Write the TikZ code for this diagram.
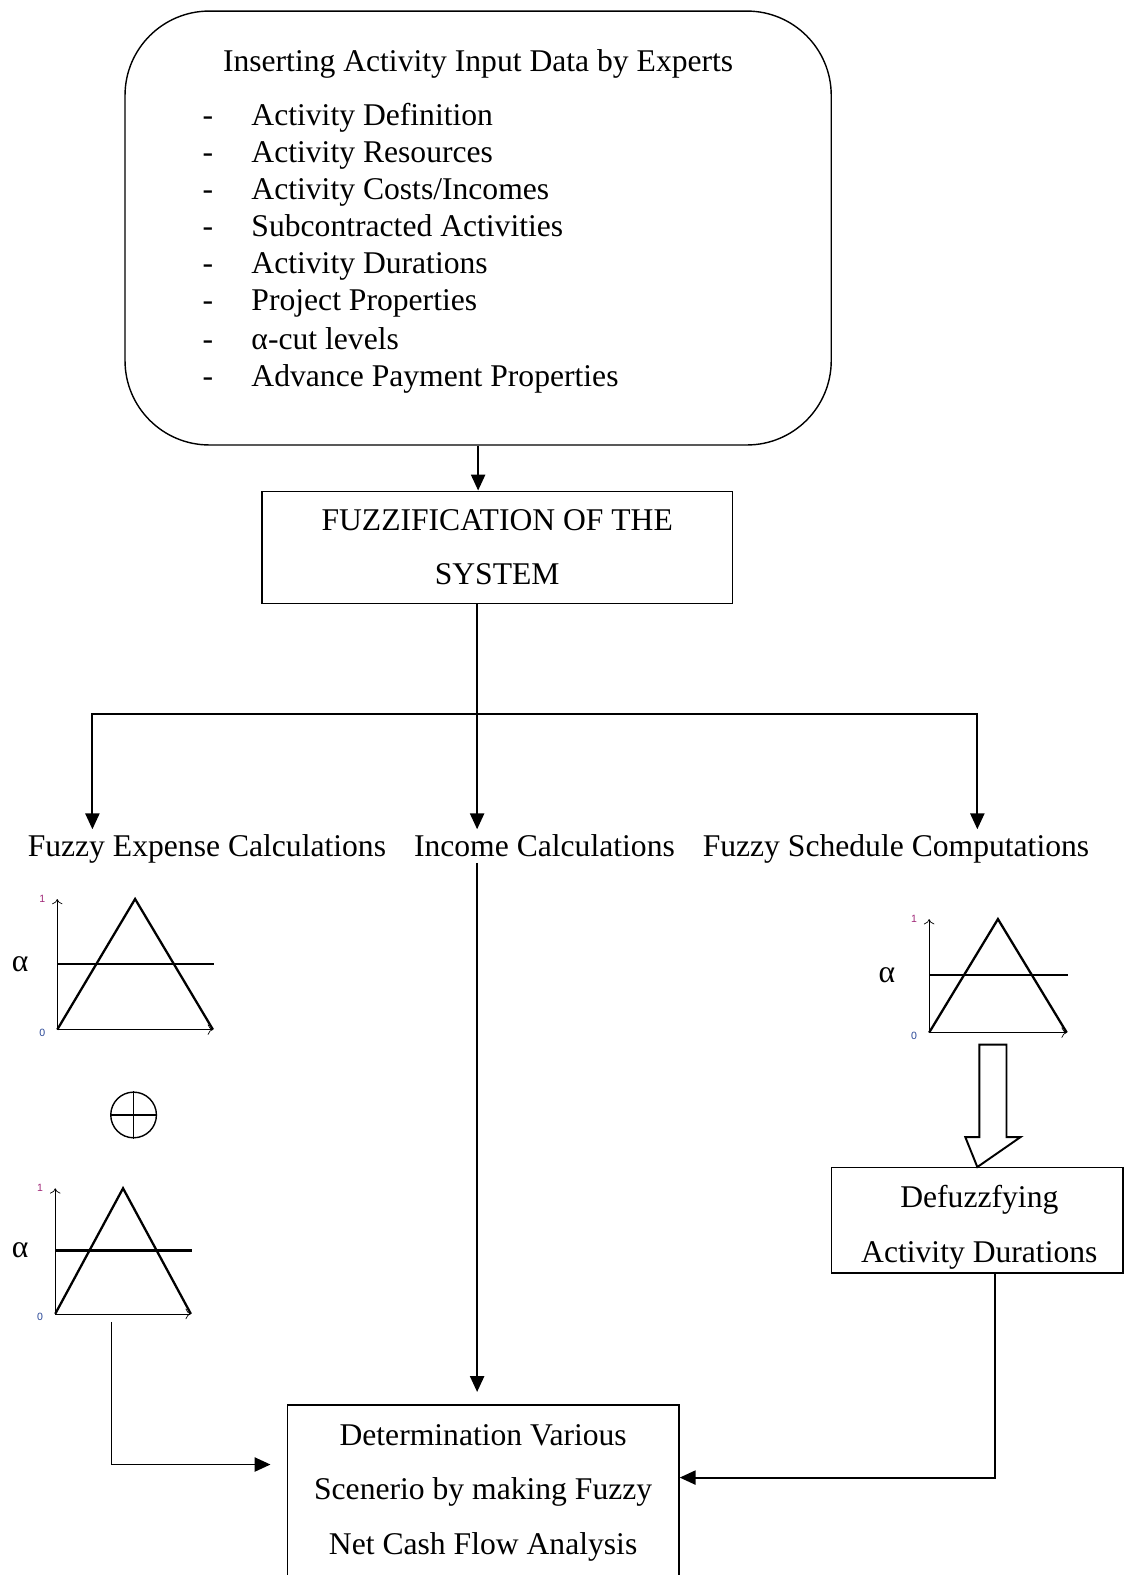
\documentclass[tikz,border=0pt]{standalone}
\usepackage{fontspec}
\setmainfont{Liberation Serif}
\newfontfamily\tickfont{Liberation Sans}
\usetikzlibrary{arrows.meta}

\definecolor{tickone}{RGB}{160,40,120}
\definecolor{tickzero}{RGB}{40,70,150}

\tikzset{
  box/.style={draw=black, line width=0.8pt, align=center, font=\fontsize{18}{31}\selectfont},
  flow/.style={line width=1.1pt, -{Triangle[length=9pt,width=8pt]}},
  link/.style={line width=1.1pt},
  axis/.style={line width=0.4pt, -{To[length=3pt,width=6pt]}},
  memb/.style={line width=1.3pt},
  tick/.style={font=\tickfont\fontsize{6}{6}\selectfont, inner sep=0pt},
  heading/.style={inner sep=3pt, anchor=base},
}

\begin{document}
\begin{tikzpicture}[x=0.02009cm, y=-0.02009cm, font=\fontsize{18}{21}\selectfont]
\useasboundingbox (0,0) rectangle (1120,1568);

		% input data
		\node[draw, line width=0.8pt, rounded corners=48pt, minimum width=402pt, minimum height=247pt] (input) at (476,227) {};
		\node[anchor=base] (title) at (476,71) {Inserting Activity Input Data by Experts};
		\foreach \y/\txt [count=\i] in {114/{Activity Definition}, 151/{Activity Resources}, 188/{Activity Costs/Incomes}, 224/{Subcontracted Activities}, 261/{Activity Durations}, 298/{Project Properties}, 337/{α-cut levels}, 374/{Advance Payment Properties}}
		{
			\node[anchor=base] (dash\i) at (207,\y+11) {-};
			\node[anchor=base west, inner sep=0pt] (item\i) at (250,\y+11) {\txt};
		}

		\node[box, minimum width=268pt, minimum height=64pt] (fuzz) at (495,545) {FUZZIFICATION OF THE\\SYSTEM};
		\coordinate (split) at (475,711);

		\node[heading] (expense)  at (206,853) {Fuzzy Expense Calculations};
		\node[heading] (income)   at (542,853) {Income Calculations};
		\node[heading] (schedule) at (892,853) {Fuzzy Schedule Computations};

		% membership functions
		\foreach \ox/\oy/\w/\h/\a/\lx [count=\k] in {57/1025/155/130/65/20, 55/1308/135/125/63/20, 925/1028/137/113/57/883}
		{
			\coordinate (orig\k) at (\ox,\oy);
			\draw[axis] (orig\k) -- ++(0,-\h);
			\draw[axis] (orig\k) -- ++(\w,0);
			\draw[memb] (orig\k) -- ++(\w/2,-\h) -- ++(\w/2,\h);
			\draw[memb] ([shift={(0,-\a)}]orig\k) -- ++(\w+1,0);
			\node (alpha\k) at (\lx,\oy-\a) {α};
			\node[tick, text=tickone] (one\k) at (\ox-15,\oy-\h) {1};
			\node[tick, text=tickzero] (zero\k) at (\ox-15,\oy+3) {0};
		}

		\node[circle, draw, line width=0.8pt, minimum size=26pt, inner sep=0pt] (oplus) at (133,1110) {};
		\draw[line width=0.8pt] (oplus.north) -- (oplus.south) (oplus.west) -- (oplus.east);

		\node[draw, line width=0.8pt, minimum width=166pt, minimum height=60pt] (defuzz) at (973,1215) {};
		\node[align=center, font=\fontsize{18}{31}\selectfont] (defuzztext) at (975,1222) {Defuzzfying\\Activity Durations};
		\node[box, minimum width=223pt, minimum height=100pt, anchor=north] (det) at (481,1398) {Determination Various\\Scenerio by making Fuzzy\\Net Cash Flow Analysis};

		% hollow arrow
		\draw[line width=1.1pt] (975,1040) -- (1002,1040) -- (1002,1132) -- (1016,1132) -- (defuzz.north) -- (961,1132) -- (975,1132) -- cycle;

		% connectors
		\draw[flow] (input.south) -- (input.south |- fuzz.north);
		\draw[link] (split |- fuzz.south) -- (split);
		\draw[flow] (split) -| (expense.north -| 92,0);
		\draw[flow] (split) -- (split |- income.north);
		\draw[flow] (split) -| (schedule.north -| 973,0);
		\draw[flow, shorten >=7pt] (income.south -| split) -- (split |- det.north);
		\coordinate (exp2out) at (111,1316);
		\draw[flow] (exp2out) |- ([shift={(-16,60)}]det.north west);
		\draw[flow] ([shift={(18,0)}]defuzz.south) |- ([shift={(0,73)}]det.north east);

\end{tikzpicture}
\end{document}
